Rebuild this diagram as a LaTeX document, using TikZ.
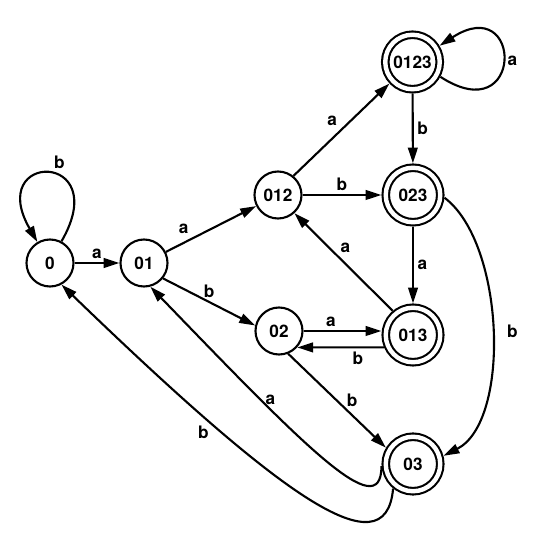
\documentclass[tikz,border=0pt]{standalone}
\usepackage{fontspec}
\setmainfont{TeX Gyre Heros}
\usepackage{tikz}
\usetikzlibrary{arrows.meta}

\begin{document}
\begin{tikzpicture}[
  every node/.style={font=\fontsize{9.8}{11}\selectfont\bfseries},
  dfastate/.style={circle, draw, line width=1.2pt, minimum size=0.94cm, inner sep=0pt},
  finalstate/.style={dfastate, double, double distance=2.5pt, minimum size=1.09cm, outer sep=2.5pt},
  trans/.style={line width=1.2pt, -{Triangle[length=9pt,width=5.5pt]}},
  lbl/.style={inner sep=2pt}
]
\useasboundingbox (0,0) rectangle (10.76,11.2);

% Draw states
\node[dfastate] (q0) at (1.0,5.94) {0};
\node[dfastate] (q01) at (2.88,5.94) {01};
\node[dfastate] (q012) at (5.56,7.3) {012};
\node[dfastate] (q02) at (5.58,4.58) {02};
\node[finalstate] (q0123) at (8.25,9.96) {0123};
\node[finalstate] (q023) at (8.26,7.3) {023};
\node[finalstate] (q013) at (8.26,4.5) {013};
\node[finalstate] (q03) at (8.26,1.92) {03};

% Draw loops
\draw[trans] (q0.62) .. controls +(60:2.1) and +(120:2.1) .. node[lbl, above right] {b} (q0.121);
\draw[trans] (q0123.-28) .. controls +(-33:2) and +(33:2) .. node[lbl, right] {a} (q0123.31);

% Draw transitions
\draw[trans] (q0) -- node[lbl, above] {a} (q01);
\draw[trans] (q01) -- node[lbl, above left, pos=0.3] {a} (q012);
\draw[trans] (q01.-39) -- node[lbl, above] {b} (q02.167);
\draw[trans] (q012.51) -- node[lbl, above left] {a} (q0123.223);
\draw[trans] (q012) -- node[lbl, above] {b} (q023);
\draw[trans] (q0123) -- node[lbl, right] {b} (q023);
\draw[trans] (q023) -- node[lbl, right] {a} (q013);
\draw[trans] (q023.-5) to[out=-37, in=27, looseness=0.75] node[lbl, right=6pt] {b} (q03.15);
\draw[trans] (q02.east) -- node[lbl, above, pos=0.35] {a} (q02.east -| q013.west);
\draw[trans] (q013.-157) -- node[lbl, below, pos=0.3] {b} (q02.-42);
\draw[trans] (q013.130) -- node[lbl, above=4pt, pos=0.48] {a} (q012.-48);
\draw[trans] (q02.-68) -- node[lbl, right=3pt] {b} (q03.149);

% Draw back edges
\draw[trans] (q03.184) .. controls +(-90:1.2) and +(-46:4.4) .. node[lbl, right, pos=0.72] {a} (q01.-75);
\draw[trans] (q03.231) .. controls +(-95:1.7) and +(-44:6) .. node[lbl, below=3pt, pos=0.75] {b} (q0.-62);

\end{tikzpicture}
\end{document}
